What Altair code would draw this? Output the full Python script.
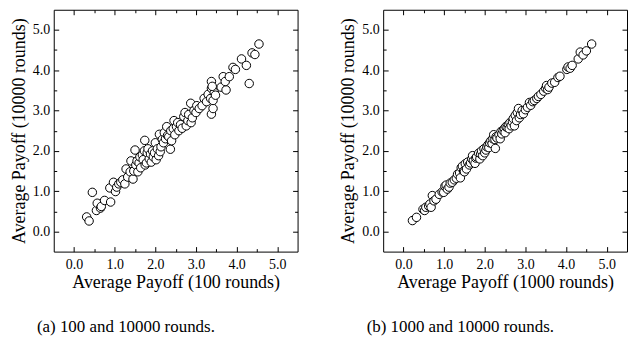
import altair as alt
import pandas as pd

# Panel (a): average payoff after 100 rounds vs. after 10000 rounds
a_x = [0.31, 0.37, 0.45, 0.55, 0.57, 0.65, 0.67, 0.75, 0.90, 0.88, 0.97, 1.02, 1.05, 1.10,
       1.15, 1.20, 1.25, 1.28, 1.32, 1.38, 1.40, 1.45, 1.47, 1.50, 1.52, 1.55, 1.57, 1.60,
       1.62, 1.64, 1.68, 1.70, 1.74, 1.73, 1.75, 1.78, 1.80, 1.82, 1.85, 1.88, 1.90, 1.93,
       1.95, 1.98, 2.00, 2.02, 2.05, 2.08, 2.10, 2.12, 2.14, 2.17, 2.20, 2.22, 2.25, 2.28,
       2.30, 2.33, 2.37, 2.38, 2.40, 2.44, 2.46, 2.48, 2.52, 2.55, 2.58, 2.62, 2.66, 2.70,
       2.73, 2.76, 2.80, 2.82, 2.87, 2.88, 2.91, 2.95, 3.00, 3.02, 3.08, 3.15, 3.20, 3.26,
       3.30, 3.38, 3.38, 3.38, 3.42, 3.36, 3.42, 3.45, 3.40, 3.48, 3.62, 3.67, 3.74, 3.72,
       3.82, 3.91, 3.97, 4.12, 4.24, 4.31, 4.38, 4.45, 4.55]
a_y = [0.36, 0.26, 0.97, 0.52, 0.70, 0.58, 0.62, 0.77, 0.73, 1.08, 1.22, 0.99, 1.10, 1.18,
       1.22, 1.28, 1.18, 1.55, 1.35, 1.48, 1.75, 1.30, 1.50, 2.02, 1.65, 1.75, 1.48, 1.70,
       1.85, 1.58, 1.90, 1.78, 2.26, 2.00, 1.65, 1.70, 1.95, 2.05, 1.80, 1.92, 1.72, 2.00,
       1.85, 1.95, 2.20, 1.78, 2.05, 1.88, 2.41, 1.98, 2.10, 2.28, 2.20, 2.45, 2.30, 2.60,
       2.38, 2.35, 2.04, 2.50, 2.25, 2.55, 2.75, 2.40, 2.60, 2.70, 2.50, 2.65, 2.56, 2.85,
       2.95, 2.62, 2.75, 2.90, 3.18, 2.70, 2.82, 3.00, 2.95, 3.12, 3.05, 3.12, 3.30, 3.22,
       3.40, 2.91, 3.72, 3.55, 3.05, 3.30, 3.25, 3.45, 3.60, 3.38, 3.58, 3.84, 3.51, 3.72,
       3.84, 4.07, 4.02, 4.28, 4.12, 3.67, 4.43, 4.39, 4.65]

# Panel (b): average payoff after 1000 rounds vs. after 10000 rounds
b_x = [0.22, 0.32, 0.48, 0.52, 0.55, 0.62, 0.65, 0.68, 0.71, 0.75, 0.80, 0.88, 0.95, 0.99,
       1.02, 1.05, 1.08, 1.12, 1.15, 1.20, 1.25, 1.30, 1.33, 1.38, 1.40, 1.42, 1.45, 1.48,
       1.50, 1.52, 1.55, 1.58, 1.62, 1.65, 1.68, 1.70, 1.72, 1.76, 1.78, 1.80, 1.85, 1.88,
       1.90, 1.92, 1.95, 1.98, 2.00, 2.03, 2.05, 2.08, 2.10, 2.12, 2.15, 2.18, 2.20, 2.22,
       2.25, 2.26, 2.28, 2.30, 2.35, 2.38, 2.40, 2.42, 2.45, 2.48, 2.50, 2.52, 2.55, 2.58,
       2.60, 2.62, 2.65, 2.68, 2.70, 2.73, 2.75, 2.78, 2.80, 2.83, 2.85, 2.88, 2.92, 2.95,
       3.00, 3.05, 3.10, 3.13, 3.18, 3.22, 3.28, 3.32, 3.38, 3.45, 3.50, 3.52, 3.55, 3.58,
       3.65, 3.72, 3.80, 3.85, 4.02, 4.05, 4.10, 4.15, 4.30, 4.35, 4.42, 4.50, 4.63]
b_y = [0.27, 0.35, 0.55, 0.52, 0.60, 0.63, 0.68, 0.60, 0.89, 0.76, 0.80, 0.92, 0.98, 0.97,
       1.12, 1.15, 1.05, 1.10, 1.20, 1.22, 1.28, 1.32, 1.42, 1.45, 1.33, 1.58, 1.62, 1.50,
       1.48, 1.68, 1.55, 1.72, 1.65, 1.70, 1.80, 1.88, 1.75, 1.69, 1.82, 1.85, 1.94, 1.80,
       1.92, 2.00, 1.88, 2.05, 1.95, 2.02, 2.10, 2.15, 2.08, 2.20, 2.25, 2.18, 2.30, 2.40,
       2.28, 2.06, 2.35, 2.32, 2.40, 2.30, 2.48, 2.42, 2.50, 2.55, 2.45, 2.60, 2.58, 2.65,
       2.55, 2.70, 2.62, 2.72, 2.80, 2.62, 2.88, 2.75, 2.95, 3.05, 2.82, 2.90, 3.00, 2.92,
       3.02, 3.08, 3.20, 3.13, 3.22, 3.25, 3.30, 3.35, 3.40, 3.48, 3.55, 3.62, 3.52, 3.58,
       3.68, 3.70, 3.82, 3.85, 4.02, 4.08, 4.05, 4.12, 4.28, 4.45, 4.38, 4.48, 4.65]

major_ticks = [0, 1, 2, 3, 4, 5]
minor_ticks = [0.5, 1.5, 2.5, 3.5, 4.5]
DOMAIN = [-0.5, 5.5]
FONT = "Liberation Serif"
MAJOR, MINOR = 5, 3


def tick_axis(orient, values, size):
    # ticks drawn inside the frame: pull the axis in by its own tick length
    return alt.Axis(orient=orient, values=values, tickSize=size, offset=-size,
                    labels=False, domain=False, grid=False, title=None,
                    tickColor="black", tickWidth=1)


def panel(xs, ys, xtitle, ytitle, caption, dx):
    df = pd.DataFrame({"x": xs, "y": ys})
    sc = alt.Scale(domain=DOMAIN, nice=False, zero=False)
    base = alt.Chart(df)

    layers = []
    for xo, yo, vals, size in [("bottom", "left", minor_ticks, MINOR),
                               ("top", "right", major_ticks, MAJOR),
                               ("top", "right", minor_ticks, MINOR)]:
        layers.append(base.mark_circle(opacity=0).encode(
            x=alt.X("x:Q", scale=sc, axis=tick_axis(xo, vals, size)),
            y=alt.Y("y:Q", scale=sc, axis=tick_axis(yo, vals, size)),
        ))

    x_axis = alt.Axis(orient="bottom", values=major_ticks, format=".1f",
                      tickSize=MAJOR, offset=-MAJOR, labelPadding=6,
                      domain=False, grid=False, tickColor="black",
                      titlePadding=2, titleFontWeight="normal", titleFont=FONT)
    y_axis = alt.Axis(orient="left", values=major_ticks, format=".1f",
                      tickSize=MAJOR, offset=-MAJOR, labelPadding=4,
                      domain=False, grid=False, tickColor="black",
                      titlePadding=4, titleFontWeight="normal", titleFont=FONT)
    points = base.mark_circle(size=72, fill="white", stroke="black",
                              strokeWidth=1, opacity=1).encode(
        x=alt.X("x:Q", scale=sc, axis=x_axis, title=xtitle),
        y=alt.Y("y:Q", scale=sc, axis=y_axis, title=ytitle),
    )
    layers.append(points)

    return alt.layer(*layers).resolve_axis(x="independent", y="independent").properties(
        width=245, height=243,
        title=alt.TitleParams(caption, orient="bottom", font=FONT, fontSize=17,
                              fontWeight="normal", color="black", offset=28, dx=dx),
    )


left = panel(a_x, a_y, "Average Payoff (100 rounds)", "Average Payoff (10000 rounds)",
             "(a) 100 and 10000 rounds.", -50)
right = panel(b_x, b_y, "Average Payoff (1000 rounds)", "Average Payoff (10000 rounds)",
              "(b) 1000 and 10000 rounds.", -45)

chart = alt.hconcat(left, right, spacing=41).properties(
    padding={"left": 10, "top": 8, "right": 0, "bottom": 0},
    background="white",
).configure_view(stroke="black", strokeWidth=1).configure_axis(
    labelFont=FONT, labelFontSize=14, labelColor="black",
    titleFont=FONT, titleFontSize=18, titleFontWeight="normal", titleColor="black",
).configure_title(font=FONT, fontSize=17, fontWeight="normal", color="black")

chart.save("out.html", embed_options={"renderer": "svg", "actions": False})
